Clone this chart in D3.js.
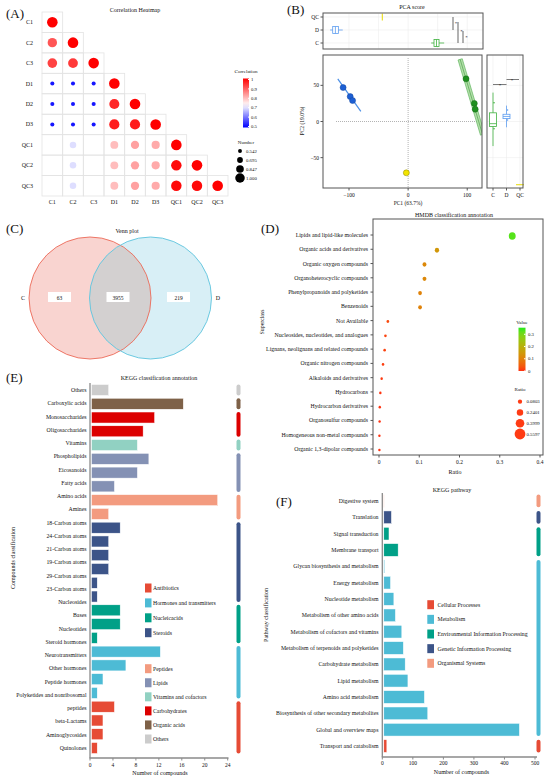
<!DOCTYPE html>
<html>
<head>
<meta charset="utf-8">
<script src="https://cdn.jsdelivr.net/npm/d3@7"></script>
<style>
  body { margin: 0; background: #fff; }
  svg { font-family: "Liberation Serif", "Times New Roman", serif; }
</style>
</head>
<body>
<svg id="fig" width="550" height="781"></svg>
<script>
// ---------- data ----------
// (A) correlation heatmap (lower triangle)
const samples = ['C1', 'C2', 'C3', 'D1', 'D2', 'D3', 'QC1', 'QC2', 'QC3'];
const corrRows = [
  [1],
  [0.91, 1],
  [0.93, 0.94, 1],
  [0.52, 0.52, 0.52, 1],
  [0.52, 0.52, 0.52, 0.96, 1],
  [0.52, 0.52, 0.52, 0.97, 0.97, 1],
  [0.73, 0.70, 0.73, 0.80, 0.83, 0.82, 1],
  [0.73, 0.70, 0.73, 0.80, 0.83, 0.82, 0.99, 1],
  [0.73, 0.70, 0.73, 0.80, 0.83, 0.82, 0.99, 0.99, 1]
];
const corrTicks = [1, 0.9, 0.8, 0.7, 0.6, 0.5];
const corrSizeLegend = [0.542, 0.695, 0.847, 1.000];

// (B) PCA
const pcaGroups = ['QC', 'D', 'C'];
const pcaColors = { C: '#1f8f1f', D: '#1c5fd4', QC: '#f2e400' };
const boxColors = { C: '#3fb13f', D: '#5d9df0', QC: '#e8d900' };
const pcaPoints = [
  { g: 'D', pc1: -110, pc2: 47 }, { g: 'D', pc1: -98, pc2: 34.5 }, { g: 'D', pc1: -94, pc2: 29 },
  { g: 'C', pc1: 98, pc2: 59 }, { g: 'C', pc1: 112, pc2: 25 }, { g: 'C', pc1: 113.5, pc2: 17 },
  { g: 'QC', pc1: -3, pc2: -71 }
];
const dFit = [[-119, 59], [-80, 14]];
const cFit = [[88, 86], [126, -18]];
const pc1Box = [
  { g: 'D', min: -132, q1: -127.6, med: -123, q3: -118, max: -110.6 },
  { g: 'C', min: 39, q1: 43.8, med: 48, q3: 52.3, max: 61 },
  { g: 'QC', min: -43.7, q1: -43.7, med: -43.7, q3: -43.7, max: -43.7 }
];
const pc2Cats = ['C', 'D', 'QC'];
const pc2Box = [
  { g: 'C', min: -34, q1: -7, med: -3, q3: 12, max: 40 },
  { g: 'D', min: -8, q1: 4, med: 7, q3: 10, max: 22 },
  { g: 'QC', min: -87.5, q1: -87.5, med: -87.5, q3: -87.5, max: -87.5 }
];
const pc2Jitter = [{ g: 'C', v: 26 }, { g: 'C', v: -10 }, { g: 'D', v: 16 }, { g: 'D', v: 2 }];

// (C) Venn
const vennSets = ['C', 'D'];
const vennCounts = [63, 3955, 219];

// (D) HMDB superclass
const hmdbClasses = ['Lipids and lipid-like molecules', 'Organic acids and derivatives', 'Organic oxygen compounds',
  'Organoheterocyclic compounds', 'Phenylpropanoids and polyketides', 'Benzenoids', 'Not Available',
  'Nucleosides, nucleotides, and analogues', 'Lignans, neolignans and related compounds', 'Organic nitrogen compounds',
  'Alkaloids and derivatives', 'Hydrocarbons', 'Hydrocarbon derivatives', 'Organosulfur compounds',
  'Homogeneous non-metal compounds', 'Organic 1,3-dipolar compounds'];
const hmdbRatio = [0.331, 0.144, 0.113, 0.113, 0.102, 0.102, 0.022, 0.016, 0.014, 0.010, 0.0066, 0.0033, 0.002, 0.0015, 0.001, 0.001];
const hmdbValueTicks = [0.3, 0.2, 0.1, 0];
const hmdbRatioLegend = [0.0803, 0.2401, 0.3999, 0.5597];
const hmdbXTicks = [0, 0.1, 0.2, 0.3, 0.4];

// (E) KEGG compound classification
// axis text lines (the long antibiotic name wraps onto two lines)
const compoundLabels = ['Others', 'Carboxylic acids', 'Monosaccharides', 'Oligosaccharides', 'Vitamins', 'Phospholipids',
  'Eicosanoids', 'Fatty acids', 'Amino acids', 'Amines', '18-Carbon atoms', '24-Carbon atoms', '21-Carbon atoms',
  '19-Carbon atoms', '29-Carbon atoms', '23-Carbon atoms', 'Nucleosides', 'Bases', 'Nucleotides', 'Steroid hormones',
  'Neurotransmitters', 'Other hormones', 'Peptide hormones', 'Polyketides and nonribosomal', 'peptides',
  'beta-Lactams', 'Aminoglycosides', 'Quinolones'];
const compounds = ['Others', 'Carboxylic acids', 'Monosaccharides', 'Oligosaccharides', 'Vitamins', 'Phospholipids',
  'Eicosanoids', 'Fatty acids', 'Amino acids', 'Amines', '18-Carbon atoms', '24-Carbon atoms', '21-Carbon atoms',
  '19-Carbon atoms', '29-Carbon atoms', '23-Carbon atoms', 'Nucleosides', 'Bases', 'Nucleotides', 'Steroid hormones',
  'Neurotransmitters', 'Other hormones', 'Peptide hormones', 'Polyketides and nonribosomal peptides',
  'beta-Lactams', 'Aminoglycosides', 'Quinolones'];
const compoundCounts = [3, 16, 11, 9, 8, 10, 8, 4, 22, 3, 5, 3, 3, 3, 1, 1, 5, 5, 1, 12, 6, 2, 1, 4, 2, 2, 1];
const compoundGroups = ['Others', 'Organic acids', 'Carbohydrates', 'Carbohydrates', 'Vitamins and cofactors',
  'Lipids', 'Lipids', 'Lipids', 'Peptides', 'Peptides', 'Steroids', 'Steroids', 'Steroids', 'Steroids', 'Steroids',
  'Steroids', 'Nucleicacids', 'Nucleicacids', 'Nucleicacids', 'Hormones and transmitters', 'Hormones and transmitters',
  'Hormones and transmitters', 'Hormones and transmitters', 'Antibiotics', 'Antibiotics', 'Antibiotics', 'Antibiotics'];
const groupColors = {
  'Antibiotics': '#e64b35', 'Hormones and transmitters': '#4dbbd5', 'Nucleicacids': '#00a087', 'Steroids': '#3c5488',
  'Peptides': '#f39b7f', 'Lipids': '#8491b4', 'Vitamins and cofactors': '#91d1c2', 'Carbohydrates': '#dc0000',
  'Organic acids': '#7e6148', 'Others': '#cccccc'
};
const compoundLegend1 = ['Antibiotics', 'Hormones and transmitters', 'Nucleicacids', 'Steroids'];
const compoundLegend2 = ['Peptides', 'Lipids', 'Vitamins and cofactors', 'Carbohydrates', 'Organic acids', 'Others'];
const compoundTicks = [0, 4, 8, 12, 16, 20, 24];

// (F) KEGG pathway
const pathways = ['Digestive system', 'Translation', 'Signal transduction', 'Membrane transport',
  'Glycan biosynthesis and metabolism', 'Energy metabolism', 'Nucleotide metabolism', 'Metabolism of other amino acids',
  'Metabolism of cofactors and vitamins', 'Metabolism of terpenoids and polyketides', 'Carbohydrate metabolism',
  'Lipid metabolism', 'Amino acid metabolism', 'Biosynthesis of other secondary metabolites', 'Global and overview maps',
  'Transport and catabolism'];
const pathwayCounts = [1, 25, 17, 47, 3, 22, 33, 38, 59, 64, 70, 79, 133, 144, 444, 10];
const pathwayClasses = ['Organismal Systems', 'Genetic Information Processing', 'Environmental Information Processing',
  'Environmental Information Processing', 'Metabolism', 'Metabolism', 'Metabolism', 'Metabolism', 'Metabolism',
  'Metabolism', 'Metabolism', 'Metabolism', 'Metabolism', 'Metabolism', 'Metabolism', 'Cellular Processes'];
const pathwayLegend = ['Cellular Processes', 'Metabolism', 'Environmental Information Processing',
  'Genetic Information Processing', 'Organismal Systems'];
const classColors = {
  'Cellular Processes': '#e64b35', 'Metabolism': '#4dbbd5', 'Environmental Information Processing': '#00a087',
  'Genetic Information Processing': '#3c5488', 'Organismal Systems': '#f39b7f'
};
const pathwayTicks = [0, 100, 200, 300, 400, 500];

// ---------- drawing ----------
const svg = d3.select('#fig');
svg.append('rect').attr('width', 550).attr('height', 781).attr('fill', '#fff');
const defs = svg.append('defs');

function txt(g, x, y, s, size, anchor, extra) {
  const t = g.append('text').attr('x', x).attr('y', y).attr('font-size', size)
    .attr('text-anchor', anchor || 'start').attr('fill', '#111').text(s);
  if (extra) extra(t);
  return t;
}

// panel letters
[['(A)', 6, 18], ['(B)', 287, 14], ['(C)', 6, 233], ['(D)', 261, 233], ['(E)', 6, 382], ['(F)', 276, 506]]
  .forEach(d => txt(svg, d[1], d[2], d[0], 13));

// ===== (A) =====
const gA = svg.append('g');
const ax = d3.scaleBand().domain(samples).range([42, 228]);
const ay = d3.scaleBand().domain(samples).range([12, 196]);
const corrColor = d3.scaleLinear().domain([0.5, 0.73, 1]).range(['#0000ff', '#ffffff', '#ff0000']);
const corrSize = d3.scaleLinear().domain([0.5, 1]).range([1.9, 5.3]);
const cells = [];
corrRows.forEach((row, i) => row.forEach((v, j) => cells.push({ r: samples[i], c: samples[j], v })));
gA.selectAll('rect.cell').data(cells).enter().append('rect')
  .attr('x', d => ax(d.c)).attr('y', d => ay(d.r))
  .attr('width', ax.bandwidth()).attr('height', ay.bandwidth())
  .attr('fill', 'none').attr('stroke', '#e3e3e3').attr('stroke-width', 0.8);
gA.selectAll('circle.cell').data(cells).enter().append('circle')
  .attr('cx', d => ax(d.c) + ax.bandwidth() / 2).attr('cy', d => ay(d.r) + ay.bandwidth() / 2)
  .attr('r', d => corrSize(d.v)).attr('fill', d => corrColor(d.v));
samples.forEach(s => {
  txt(gA, 33, ay(s) + ay.bandwidth() / 2 + 2, s, 6, 'end');
  txt(gA, ax(s) + ax.bandwidth() / 2, 204, s, 6, 'middle');
});
txt(gA, 135, 12, 'Correlation Heatmap', 6, 'middle');
// colour bar
const gradA = defs.append('linearGradient').attr('id', 'gA').attr('x1', 0).attr('y1', 1).attr('x2', 0).attr('y2', 0);
d3.range(0, 1.001, 0.1).forEach(t => gradA.append('stop').attr('offset', t).attr('stop-color', corrColor(0.5 + t * 0.5)));
const cbA = d3.scaleLinear().domain([0.5, 1]).range([126.5, 79.5]);
gA.append('rect').attr('x', 243).attr('y', 78.5).attr('width', 6).attr('height', 49).attr('fill', 'url(#gA)');
txt(gA, 246, 73, 'Correlation', 5, 'middle');
corrTicks.forEach(t => {
  gA.append('line').attr('x1', 248).attr('x2', 249.5).attr('y1', cbA(t)).attr('y2', cbA(t)).attr('stroke', '#fff');
  txt(gA, 251, cbA(t) + 1.7, String(t), 4.8, 'start');
});
txt(gA, 246, 144, 'Number', 5, 'middle');
const legY = d3.scalePoint().domain(corrSizeLegend).range([151, 178]);
corrSizeLegend.forEach(v => {
  gA.append('circle').attr('cx', 240).attr('cy', legY(v)).attr('r', corrSize(v) * 0.9).attr('fill', '#000');
  txt(gA, 246, legY(v) + 1.7, v.toFixed(3), 4.8, 'start');
});

// ===== (B) =====
const gB = svg.append('g');
const px = d3.scaleLinear().domain([-144, 125]).range([323, 482]);
const py = d3.scaleLinear().domain([-92, 92]).range([188, 55]);
const frame = (g, x0, y0, x1, y1) => g.append('rect').attr('x', x0).attr('y', y0).attr('width', x1 - x0)
  .attr('height', y1 - y0).attr('fill', 'none').attr('stroke', '#555').attr('stroke-width', 1);
txt(gB, 412, 9, 'PCA score', 6, 'middle');

// top box panel
const ty = d3.scalePoint().domain(pcaGroups).range([17, 43]);
[-100, -50, 0, 50, 100].forEach(v => gB.append('line').attr('x1', px(v)).attr('x2', px(v))
  .attr('y1', 13.5).attr('y2', 48.5).attr('stroke', '#ececec').attr('stroke-width', 0.6));
pcaGroups.forEach(g => gB.append('line').attr('x1', 323).attr('x2', 483).attr('y1', ty(g)).attr('y2', ty(g))
  .attr('stroke', '#ececec').attr('stroke-width', 0.6));
pc1Box.forEach(b => {
  const c = boxColors[b.g], y = ty(b.g);
  gB.append('line').attr('x1', px(b.min)).attr('x2', px(b.max)).attr('y1', y).attr('y2', y).attr('stroke', c).attr('stroke-width', 0.8);
  if (b.g === 'QC') {
    gB.append('line').attr('x1', px(b.med)).attr('x2', px(b.med)).attr('y1', y - 3.5).attr('y2', y + 3.5).attr('stroke', c).attr('stroke-width', 1);
    return;
  }
  gB.append('rect').attr('x', px(b.q1)).attr('y', y - 3.5).attr('width', px(b.q3) - px(b.q1)).attr('height', 7)
    .attr('fill', '#fff').attr('stroke', c).attr('stroke-width', 0.8);
  gB.append('line').attr('x1', px(b.med)).attr('x2', px(b.med)).attr('y1', y - 3.5).attr('y2', y + 3.5).attr('stroke', c).attr('stroke-width', 0.8);
});
frame(gB, 323, 13, 483, 49);
pcaGroups.forEach(g => {
  gB.append('line').attr('x1', 320.5).attr('x2', 323).attr('y1', ty(g)).attr('y2', ty(g)).attr('stroke', '#555');
  txt(gB, 319, ty(g) + 2, g, 5.5, 'end');
});
// significance brackets (top)
[[453, 17, 30, 456, 25], [458, 22, 43, 461.5, 33], [463, 31, 43, 466.5, 38.5]].forEach(s => {
  gB.append('line').attr('x1', s[0]).attr('x2', s[0]).attr('y1', s[1]).attr('y2', s[2]).attr('stroke', '#222').attr('stroke-width', 0.7);
  txt(gB, s[3], s[4], '*', 5, 'middle');
});

// main scatter
gB.append('line').attr('x1', px(0)).attr('x2', px(0)).attr('y1', 58).attr('y2', 188)
  .attr('stroke', '#aaa').attr('stroke-dasharray', '1,1').attr('stroke-width', 0.9);
gB.append('line').attr('x1', 336).attr('x2', 480).attr('y1', py(0)).attr('y2', py(0))
  .attr('stroke', '#aaa').attr('stroke-dasharray', '1,1').attr('stroke-width', 0.9);
// C band
const dir = [px(cFit[1][0]) - px(cFit[0][0]), py(cFit[1][1]) - py(cFit[0][1])];
const len = Math.hypot(dir[0], dir[1]);
const nx = -dir[1] / len * 2.2, ny = dir[0] / len * 2.2;
const bandPts = [[px(cFit[0][0]) + nx, py(cFit[0][1]) + ny], [px(cFit[1][0]) + nx, py(cFit[1][1]) + ny],
  [px(cFit[1][0]) - nx, py(cFit[1][1]) - ny], [px(cFit[0][0]) - nx, py(cFit[0][1]) - ny]];
defs.append('clipPath').attr('id', 'clipB').append('rect').attr('x', 323).attr('y', 55).attr('width', 159).attr('height', 133);
gB.append('polygon').attr('points', bandPts.map(p => p.join(',')).join(' ')).attr('clip-path', 'url(#clipB)')
  .attr('fill', '#b4deaa').attr('stroke', '#4fae4f').attr('stroke-width', 0.6);
gB.append('line').attr('clip-path', 'url(#clipB)').attr('x1', px(cFit[0][0])).attr('y1', py(cFit[0][1]))
  .attr('x2', px(cFit[1][0])).attr('y2', py(cFit[1][1])).attr('stroke', '#3c9c3c').attr('stroke-width', 0.6);
gB.append('line').attr('x1', px(dFit[0][0])).attr('y1', py(dFit[0][1])).attr('x2', px(dFit[1][0])).attr('y2', py(dFit[1][1]))
  .attr('stroke', '#4b8fe6').attr('stroke-width', 1.2);
gB.selectAll('circle.pca').data(pcaPoints).enter().append('circle')
  .attr('cx', d => px(d.pc1)).attr('cy', d => py(d.pc2)).attr('r', 3)
  .attr('fill', d => pcaColors[d.g]).attr('stroke', d => d.g === 'QC' ? '#8c8400' : d3.color(pcaColors[d.g]).darker(0.8)).attr('stroke-width', 0.5);
frame(gB, 323, 55, 482, 188);
[-100, 0, 100].forEach(v => {
  gB.append('line').attr('x1', px(v)).attr('x2', px(v)).attr('y1', 188).attr('y2', 190.5).attr('stroke', '#555');
  txt(gB, px(v), 196.5, v < 0 ? '\u2212' + Math.abs(v) : String(v), 5.5, 'middle');
});
[50, 0, -50].forEach(v => {
  gB.append('line').attr('x1', 320.5).attr('x2', 323).attr('y1', py(v)).attr('y2', py(v)).attr('stroke', '#555');
  txt(gB, 319, py(v) + 2, v < 0 ? '\u2212' + Math.abs(v) : String(v), 5.5, 'end');
});
txt(gB, 408, 205, 'PC1 (63.7%)', 5.5, 'middle');
txt(gB, 0, 0, 'PC2 (19.0%)', 5.5, 'middle', t => t.attr('transform', 'translate(304,121) rotate(-90)'));

// right box panel
const rx = d3.scalePoint().domain(pc2Cats).range([493, 520]);
[50, 0, -50].forEach(v => gB.append('line').attr('x1', 487).attr('x2', 523).attr('y1', py(v)).attr('y2', py(v))
  .attr('stroke', '#ececec').attr('stroke-width', 0.6));
pc2Cats.forEach(c => gB.append('line').attr('x1', rx(c)).attr('x2', rx(c)).attr('y1', 55).attr('y2', 188)
  .attr('stroke', '#ececec').attr('stroke-width', 0.6));
pc2Box.forEach(b => {
  const c = boxColors[b.g], x = rx(b.g);
  if (b.g === 'QC') {
    gB.append('line').attr('x1', x - 4).attr('x2', x + 4).attr('y1', py(b.med)).attr('y2', py(b.med)).attr('stroke', c).attr('stroke-width', 1);
    return;
  }
  gB.append('line').attr('x1', x).attr('x2', x).attr('y1', py(b.min)).attr('y2', py(b.max)).attr('stroke', c).attr('stroke-width', 0.8);
  gB.append('rect').attr('x', x - 3.5).attr('y', py(b.q3)).attr('width', 7).attr('height', py(b.q1) - py(b.q3))
    .attr('fill', '#fff').attr('stroke', c).attr('stroke-width', 0.8);
  gB.append('line').attr('x1', x - 3.5).attr('x2', x + 3.5).attr('y1', py(b.med)).attr('y2', py(b.med)).attr('stroke', c).attr('stroke-width', 0.8);
});
pc2Jitter.forEach(j => gB.append('circle').attr('cx', rx(j.g) + 1).attr('cy', py(j.v)).attr('r', 0.8).attr('fill', boxColors[j.g]));
frame(gB, 487, 55, 523, 188);
pc2Cats.forEach(c => {
  gB.append('line').attr('x1', rx(c)).attr('x2', rx(c)).attr('y1', 188).attr('y2', 190.5).attr('stroke', '#555');
  txt(gB, rx(c), 196.5, c, 5.5, 'middle');
});
[[rx('C'), rx('D'), 84.5, 500, 83], [rx('D'), rx('QC') - 1, 79.5, 512, 78]].forEach(s => {
  gB.append('line').attr('x1', s[0]).attr('x2', s[1]).attr('y1', s[2]).attr('y2', s[2]).attr('stroke', '#222').attr('stroke-width', 0.6);
  txt(gB, s[3], s[4] + 3.5, '*', 5, 'middle');
});

// ===== (C) Venn =====
const gC = svg.append('g');
const vx = d3.scalePoint().domain(vennSets).range([90, 150.5]);
const vr = 61, vcy = 298;
txt(gC, 127, 233, 'Venn plot', 6, 'middle');
gC.append('circle').attr('cx', vx('C')).attr('cy', vcy).attr('r', vr).attr('fill', '#f9d4d0');
gC.append('circle').attr('cx', vx('D')).attr('cy', vcy).attr('r', vr).attr('fill', '#d8eff6');
defs.append('clipPath').attr('id', 'clipC').append('circle').attr('cx', vx('C')).attr('cy', vcy).attr('r', vr);
gC.append('circle').attr('cx', vx('D')).attr('cy', vcy).attr('r', vr).attr('fill', '#d3d0d0').attr('clip-path', 'url(#clipC)');
gC.append('circle').attr('cx', vx('C')).attr('cy', vcy).attr('r', vr).attr('fill', 'none').attr('stroke', '#ec6a58').attr('stroke-width', 0.9);
gC.append('circle').attr('cx', vx('D')).attr('cy', vcy).attr('r', vr).attr('fill', 'none').attr('stroke', '#5ec4de').attr('stroke-width', 0.9);
const vennLabelX = [59.5, 118, 178.5];
vennCounts.forEach((n, i) => {
  gC.append('rect').attr('x', vennLabelX[i] - 11.5).attr('y', vcy - 6).attr('width', 23).attr('height', 10).attr('fill', '#fff');
  txt(gC, vennLabelX[i], vcy + 1.5, String(n), 5.5, 'middle');
});
txt(gC, 23, vcy + 1.5, 'C', 6, 'middle');
txt(gC, 218, vcy + 1.5, 'D', 6, 'middle');

// ===== (D) HMDB =====
const gD = svg.append('g');
const dx = d3.scaleLinear().domain([0, 0.4]).range([379, 540]);
const dy = d3.scalePoint().domain(hmdbClasses).range([235, 449]);
const dColor = d3.scaleLinear().domain([0, 0.345]).range(['#ff3010', '#3ce81c']).interpolate(d3.interpolateLab);
const dSize = d3.scaleLinear().domain([0, 0.56]).range([1.2, 5]);
txt(gD, 454, 217, 'HMDB classification annotation', 6, 'middle');
frame(gD, 373, 219, 543, 455);
hmdbClasses.forEach(c => {
  gD.append('line').attr('x1', 370.5).attr('x2', 373).attr('y1', dy(c)).attr('y2', dy(c)).attr('stroke', '#555');
  txt(gD, 368, dy(c) + 2, c, 5.8, 'end');
});
gD.selectAll('ellipse.hm').data(hmdbClasses).enter().append('ellipse')
  .attr('cx', (d, i) => dx(hmdbRatio[i])).attr('cy', d => dy(d) + 1)
  .attr('rx', (d, i) => dSize(hmdbRatio[i])).attr('ry', (d, i) => dSize(hmdbRatio[i]) * 1.1)
  .attr('fill', (d, i) => dColor(hmdbRatio[i]));
hmdbXTicks.forEach(v => {
  gD.append('line').attr('x1', dx(v)).attr('x2', dx(v)).attr('y1', 455).attr('y2', 457.5).attr('stroke', '#555');
  txt(gD, dx(v), 463.5, String(v), 5.5, 'middle');
});
txt(gD, 455, 474, 'Ratio', 6, 'middle');
txt(gD, 0, 0, 'Superclass', 5.8, 'middle', t => t.attr('transform', 'translate(264,322) rotate(-90)'));
// legends
const gradD = defs.append('linearGradient').attr('id', 'gD').attr('x1', 0).attr('y1', 1).attr('x2', 0).attr('y2', 0);
d3.range(0, 1.001, 0.1).forEach(t => gradD.append('stop').attr('offset', t).attr('stop-color', dColor(t * 0.354)));
const cbD = d3.scaleLinear().domain([0, 0.3]).range([371, 334.3]);
gD.append('rect').attr('x', 518.5).attr('y', cbD(0.354)).attr('width', 7).attr('height', cbD(0) - cbD(0.354)).attr('fill', 'url(#gD)');
txt(gD, 522, 324, 'Value', 5, 'middle');
hmdbValueTicks.forEach(v => {
  gD.append('line').attr('x1', 524).attr('x2', 525.5).attr('y1', cbD(v)).attr('y2', cbD(v)).attr('stroke', '#fff');
  txt(gD, 528, cbD(v) + 1.7, String(v), 4.8, 'start');
});
txt(gD, 520, 391, 'Ratio', 5, 'middle');
const dLegY = d3.scaleLinear().domain([0.0803, 0.5597]).range([401.7, 434]);
hmdbRatioLegend.forEach(v => {
  gD.append('circle').attr('cx', 520).attr('cy', dLegY(v)).attr('r', dSize(v) + 0.4).attr('fill', '#ff3b14');
  txt(gD, 526.5, dLegY(v) + 1.7, String(v), 4.8, 'start');
});

// ===== (E) KEGG classification =====
const gE = svg.append('g');
const ex = d3.scaleLinear().domain([0, 24]).range([90, 227.7]);
const eyLab = d3.scalePoint().domain(compoundLabels).range([390, 748]);
const ey = d3.scaleBand().domain(compounds).range([383.1, 754.9]).paddingInner(0.2).paddingOuter(0.1);
txt(gE, 159, 380, 'KEGG classification annotation', 6, 'middle');
gE.selectAll('rect.bar').data(compounds).enter().append('rect')
  .attr('x', ex(0) + 1.5).attr('y', d => ey(d))
  .attr('width', (d, i) => ex(compoundCounts[i]) - ex(0)).attr('height', ey.bandwidth())
  .attr('fill', (d, i) => groupColors[compoundGroups[i]]).attr('stroke', '#fff').attr('stroke-width', 0.5);
compoundLabels.forEach(c => txt(gE, 86.5, eyLab(c) + 2, c, 5.8, 'end'));
gE.append('line').attr('x1', 90).attr('x2', 90).attr('y1', 383).attr('y2', 758).attr('stroke', '#8a8a8a').attr('stroke-width', 1.3);
gE.append('line').attr('x1', 89.5).attr('x2', 228.5).attr('y1', 758).attr('y2', 758).attr('stroke', '#8a8a8a').attr('stroke-width', 1.3);
compoundTicks.forEach(v => {
  gE.append('line').attr('x1', ex(v)).attr('x2', ex(v)).attr('y1', 758).attr('y2', 760.5).attr('stroke', '#8a8a8a');
  txt(gE, ex(v), 766.5, String(v), 5.5, 'middle');
});
txt(gE, 160, 775, 'Number of compounds', 6, 'middle');
txt(gE, 0, 0, 'Compounds classification', 6, 'middle', t => t.attr('transform', 'translate(15,558) rotate(-90)'));
// side group bars
function sideBars(g, cats, groups, yScale, x, colors) {
  const runs = [];
  groups.forEach((gr, i) => {
    const last = runs[runs.length - 1];
    if (last && last.g === gr) last.end = cats[i];
    else runs.push({ g: gr, start: cats[i], end: cats[i] });
  });
  runs.forEach(r => {
    const y0 = yScale(r.start), y1 = yScale(r.end) + yScale.bandwidth();
    g.append('rect').attr('x', x).attr('y', y0).attr('width', 4).attr('height', y1 - y0)
      .attr('rx', 2).attr('ry', 2).attr('fill', colors[r.g]);
  });
}
sideBars(gE, compounds, compoundGroups, ey, 236.5, groupColors);
const eLeg1 = d3.scalePoint().domain(compoundLegend1).range([588, 632.7]);
const eLeg2 = d3.scalePoint().domain(compoundLegend2).range([668.7, 739]);
[[compoundLegend1, eLeg1], [compoundLegend2, eLeg2]].forEach(([items, sc]) => items.forEach(it => {
  gE.append('rect').attr('x', 145).attr('y', sc(it) - 4.5).attr('width', 6.5).attr('height', 9).attr('fill', groupColors[it]);
  txt(gE, 153, sc(it) + 2, it, 5.8, 'start');
}));

// ===== (F) KEGG pathway =====
const gF = svg.append('g');
const fx = d3.scaleLinear().domain([0, 500]).range([382.3, 535]);
const fy = d3.scaleBand().domain(pathways).range([492.8, 754.2]).paddingInner(0.22).paddingOuter(0.11);
txt(gF, 452, 492, 'KEGG pathway', 6, 'middle');
gF.selectAll('rect.bar').data(pathways).enter().append('rect')
  .attr('x', fx(0) + 1.5).attr('y', d => fy(d))
  .attr('width', (d, i) => fx(pathwayCounts[i]) - fx(0)).attr('height', fy.bandwidth())
  .attr('fill', (d, i) => classColors[pathwayClasses[i]]).attr('stroke', '#fff').attr('stroke-width', 0.5);
pathways.forEach(p => txt(gF, 378.5, fy(p) + fy.bandwidth() / 2 + 2, p, 5.8, 'end'));
gF.append('line').attr('x1', 382.3).attr('x2', 382.3).attr('y1', 493).attr('y2', 757).attr('stroke', '#8a8a8a').attr('stroke-width', 1.3);
gF.append('line').attr('x1', 381.8).attr('x2', 537).attr('y1', 757).attr('y2', 757).attr('stroke', '#8a8a8a').attr('stroke-width', 1.3);
pathwayTicks.forEach(v => {
  gF.append('line').attr('x1', fx(v)).attr('x2', fx(v)).attr('y1', 757).attr('y2', 759.5).attr('stroke', '#8a8a8a');
  txt(gF, fx(v), 765, String(v), 5.5, 'middle');
});
txt(gF, 461.5, 774, 'Number of compounds', 6, 'middle');
txt(gF, 0, 0, 'Pathway classification', 6, 'middle', t => t.attr('transform', 'translate(268,615) rotate(-90)'));
sideBars(gF, pathways, pathwayClasses, fy, 536.5, classColors);
const fLeg = d3.scalePoint().domain(pathwayLegend).range([604.7, 663.3]);
pathwayLegend.forEach(it => {
  gF.append('rect').attr('x', 427.3).attr('y', fLeg(it) - 4.5).attr('width', 6.7).attr('height', 9).attr('fill', classColors[it]);
  txt(gF, 437.5, fLeg(it) + 2, it, 5.8, 'start');
});
</script>
</body>
</html>
